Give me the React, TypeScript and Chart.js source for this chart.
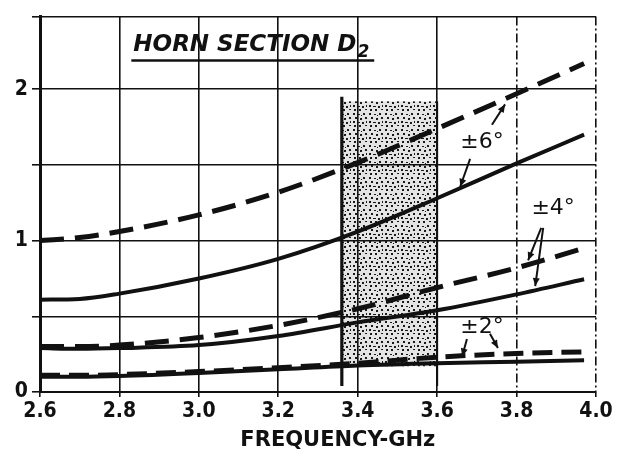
import React, { useEffect, useRef } from "react";
import { Chart, registerables } from "chart.js";

Chart.register(...registerables);

// ---- data ----
const frequencies = [2.6, 2.7, 2.8, 3.0, 3.2, 3.4, 3.6, 3.8, 3.97];
const dev6Dashed = [1.0, 1.02, 1.06, 1.17, 1.32, 1.515, 1.74, 1.97, 2.17];
const dev6Solid = [0.61, 0.615, 0.65, 0.75, 0.88, 1.06, 1.28, 1.51, 1.7];
const dev4Dashed = [0.3, 0.3, 0.31, 0.36, 0.44, 0.55, 0.69, 0.82, 0.95];
const dev4Solid = [0.29, 0.285, 0.29, 0.31, 0.37, 0.46, 0.54, 0.645, 0.745];
const dev2Dashed = [0.11, 0.11, 0.115, 0.135, 0.16, 0.19, 0.23, 0.255, 0.265];
const dev2Solid = [0.1, 0.1, 0.105, 0.125, 0.15, 0.175, 0.19, 0.2, 0.21];

const xTicks = [2.6, 2.8, 3.0, 3.2, 3.4, 3.6, 3.8, 4.0];
const xTickLabels = ["2.6", "2.8", "3.0", "3.2", "3.4", "3.6", "3.8", "4.0"];
const yTicks = [0, 0.5, 1, 1.5, 2, 2.48];
const yTickLabels = ["0", "", "1", "", "2", ""];

const bandFreqs = [3.36, 3.6];
const bandValues = [0.17, 1.92];
const bandEdgeValues = [0.04, 1.95];

const chartTitle = "HORN SECTION D";
const chartTitleSub = "2";
const titlePos = [2.835, 2.25];
const xAxisTitle = "FREQUENCY-GHz";
const xAxisTitlePos = [3.35, -0.32];

const labelTexts = ["±6°", "±4°", "±2°"];
const labelFreqs = [3.713, 3.892, 3.713];
const labelValues = [1.65, 1.215, 0.43];

const arrowFrom = [
  [3.738, 1.765],
  [3.683, 1.54],
  [3.862, 1.085],
  [3.867, 1.085],
  [3.675, 0.35],
  [3.733, 0.385],
];
const arrowTo = [
  [3.771, 1.9],
  [3.658, 1.356],
  [3.829, 0.87],
  [3.847, 0.7],
  [3.663, 0.235],
  [3.753, 0.29],
];

const INK = "#111111";
const tickFont = "'DejaVu Sans Condensed', 'DejaVu Sans', sans-serif";

function pts(ys: number[]) {
  return frequencies.map((x, i) => ({ x, y: ys[i] }));
}

function makePattern(ctx: CanvasRenderingContext2D) {
  const c = document.createElement("canvas");
  c.width = 16;
  c.height = 16;
  const p = c.getContext("2d")!;
  p.fillStyle = "#e4e4e4";
  p.fillRect(0, 0, 16, 16);
  p.fillStyle = "#1a1a1a";
  const dots = [
    [1, 1, 2, 2], [6, 2, 2, 1], [11, 1, 2, 2], [3, 5, 2, 2], [8, 6, 2, 2],
    [13, 5, 2, 2], [1, 9, 2, 2], [5, 10, 3, 1], [10, 10, 2, 2], [7, 13, 2, 2],
    [2, 13, 2, 2], [13, 13, 2, 1], [14, 9, 1, 2], [9, 3, 1, 1],
  ];
  dots.forEach(([x, y, w, h]) => p.fillRect(x, y, w, h));
  return ctx.createPattern(c, "repeat");
}

const overlayPlugin = {
  id: "overlay",
  beforeDraw(chart: any) {
    const { ctx, scales } = chart;
    const xs = scales.x;
    const ys = scales.y;
    const x0 = xs.getPixelForValue(bandFreqs[0]);
    const x1 = xs.getPixelForValue(bandFreqs[1]);
    const yb = ys.getPixelForValue(bandValues[0]);
    const yt = ys.getPixelForValue(bandValues[1]);
    ctx.save();
    const pat = makePattern(ctx);
    ctx.fillStyle = pat || "#ccc";
    ctx.fillRect(x0, yt, x1 - x0, yb - yt);
    ctx.strokeStyle = INK;
    ctx.lineWidth = 3.2;
    ctx.beginPath();
    ctx.moveTo(x0, ys.getPixelForValue(bandEdgeValues[0]));
    ctx.lineTo(x0, ys.getPixelForValue(bandEdgeValues[1]));
    ctx.stroke();
    ctx.lineWidth = 2;
    ctx.beginPath();
    ctx.moveTo(x1, ys.getPixelForValue(bandEdgeValues[0]));
    ctx.lineTo(x1, yt);
    ctx.stroke();
    ctx.restore();
  },
  afterDatasetsDraw(chart: any) {
    const { ctx, scales } = chart;
    const xs = scales.x;
    const ys = scales.y;
    ctx.save();
    ctx.fillStyle = INK;
    ctx.strokeStyle = INK;

    // title
    const tx = xs.getPixelForValue(titlePos[0]);
    const ty = ys.getPixelForValue(titlePos[1]);
    ctx.font = "italic bold 23px 'DejaVu Sans', sans-serif";
    ctx.textAlign = "left";
    ctx.textBaseline = "alphabetic";
    ctx.fillText(chartTitle, tx, ty);
    const w1 = ctx.measureText(chartTitle).width;
    ctx.font = "italic bold 17px 'DejaVu Sans', sans-serif";
    ctx.fillText(chartTitleSub, tx + w1 + 1, ty + 6);
    const w2 = ctx.measureText(chartTitleSub).width;
    ctx.lineWidth = 2.5;
    ctx.beginPath();
    ctx.moveTo(tx - 2, ty + 9);
    ctx.lineTo(tx + w1 + w2 + 6, ty + 9);
    ctx.stroke();

    // x axis title
    ctx.font = `bold 21px 'DejaVu Sans', sans-serif`;
    ctx.textAlign = "center";
    ctx.textBaseline = "middle";
    ctx.fillText(
      xAxisTitle,
      xs.getPixelForValue(xAxisTitlePos[0]),
      ys.getPixelForValue(xAxisTitlePos[1])
    );

    // curve labels
    ctx.font = "22px 'DejaVu Sans', sans-serif";
    labelTexts.forEach((t, i) => {
      ctx.fillText(t, xs.getPixelForValue(labelFreqs[i]), ys.getPixelForValue(labelValues[i]));
    });

    // arrows
    ctx.lineWidth = 2;
    arrowFrom.forEach((f, i) => {
      const t = arrowTo[i];
      const ax = xs.getPixelForValue(f[0]);
      const ay = ys.getPixelForValue(f[1]);
      const bx = xs.getPixelForValue(t[0]);
      const by = ys.getPixelForValue(t[1]);
      ctx.beginPath();
      ctx.moveTo(ax, ay);
      ctx.lineTo(bx, by);
      ctx.stroke();
      const ang = Math.atan2(by - ay, bx - ax);
      const L = 8;
      const W = 3.5;
      ctx.beginPath();
      ctx.moveTo(bx, by);
      ctx.lineTo(bx - L * Math.cos(ang) + W * Math.sin(ang), by - L * Math.sin(ang) - W * Math.cos(ang));
      ctx.lineTo(bx - L * Math.cos(ang) - W * Math.sin(ang), by - L * Math.sin(ang) + W * Math.cos(ang));
      ctx.closePath();
      ctx.fill();
    });
    ctx.restore();
  },
};

export default function App() {
  const ref = useRef<HTMLCanvasElement | null>(null);
  useEffect(() => {
    if (!ref.current) return;
    const solid = (data: number[]) => ({
      data: pts(data),
      borderColor: INK,
      borderWidth: 4,
      pointRadius: 0,
      cubicInterpolationMode: "monotone" as const,
      fill: false,
    });
    const dashed = (data: number[], dash: number[]) => ({
      ...solid(data),
      borderWidth: 5,
      borderDash: dash,
      borderCapStyle: "butt" as const,
    });
    const chart = new Chart(ref.current, {
      type: "line",
      data: {
        datasets: [
          { label: "±6° dashed", ...dashed(dev6Dashed, [24, 11]) },
          { label: "±6° solid", ...solid(dev6Solid) },
          { label: "±4° dashed", ...dashed(dev4Dashed, [24, 11]) },
          { label: "±4° solid", ...solid(dev4Solid) },
          { label: "±2° dashed", ...dashed(dev2Dashed, [20, 9]) },
          { label: "±2° solid", ...solid(dev2Solid) },
        ] as any,
      },
      options: {
        animation: false,
        responsive: true,
        maintainAspectRatio: false,
        layout: { padding: { top: 14, right: 28, left: 0, bottom: 0 } },
        plugins: {
          legend: { display: false },
          tooltip: { enabled: false },
          title: { display: false },
        },
        scales: {
          x: {
            type: "linear",
            min: 2.6,
            max: 4.0,
            afterBuildTicks: (s: any) => {
              s.ticks = xTicks.map((v) => ({ value: v }));
            },
            afterFit: (s: any) => {
              s.height = 75;
            },
            ticks: {
              color: INK,
              padding: 2,
              maxRotation: 0,
              autoSkip: false,
              font: { family: tickFont, size: 21, weight: "bold" },
              callback: (_v: any, i: number) => xTickLabels[i],
            },
            grid: {
              color: INK,
              lineWidth: 1.6,
              drawTicks: true,
              tickLength: 5,
            },
            border: {
              display: true,
              color: INK,
              width: 2,
              dash: (c: any) => (c.tick && c.tick.value >= 3.79 ? [9, 3, 2, 3] : []),
            },
          },
          y: {
            type: "linear",
            min: 0,
            max: 2.48,
            afterBuildTicks: (s: any) => {
              s.ticks = yTicks.map((v) => ({ value: v }));
            },
            afterFit: (s: any) => {
              s.width = 40;
            },
            ticks: {
              color: INK,
              padding: 4,
              autoSkip: false,
              font: { family: tickFont, size: 21, weight: "bold" },
              callback: (_v: any, i: number) => yTickLabels[i],
            },
            grid: {
              color: INK,
              lineWidth: 1.6,
              drawTicks: true,
              tickLength: 8,
            },
            border: { display: true, color: INK, width: 3 },
          },
        },
      },
      plugins: [overlayPlugin],
    });
    return () => chart.destroy();
  }, []);
  return (
    <div style={{ position: "fixed", left: 0, top: 0, width: 624, height: 467, background: "#fff" }}>
      <canvas ref={ref} />
    </div>
  );
}
